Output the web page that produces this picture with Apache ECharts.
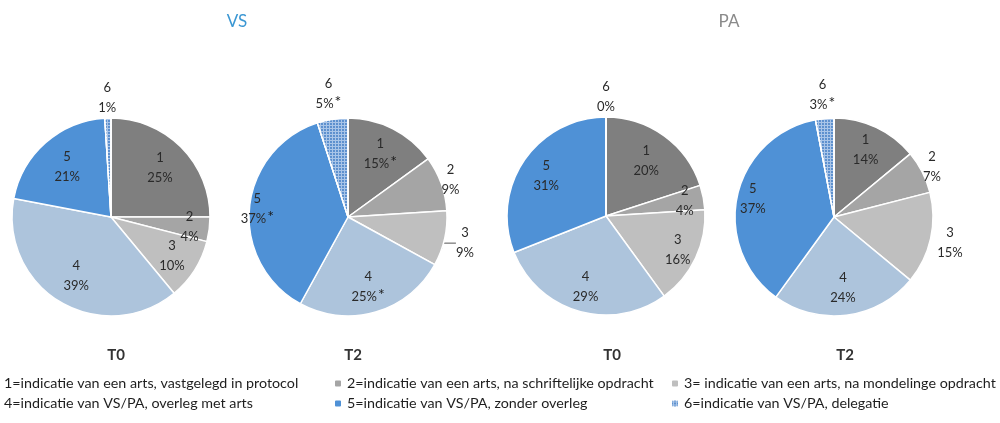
<!DOCTYPE html>
<html>
<head>
<meta charset="utf-8">
<script src="https://cdn.jsdelivr.net/npm/echarts@6/dist/echarts.min.js"></script>
<style>
  html, body { margin: 0; padding: 0; background: #ffffff; }
  #chart { width: 1000px; height: 423px; }
</style>
</head>
<body>
<div id="chart"></div>
<script>
// Categories (slice codes and full legend names)
const codes = ['1', '2', '3', '4', '5', '6'];
const categories = [
  '1=indicatie van een arts, vastgelegd in protocol',
  '2=indicatie van een arts, na schriftelijke opdracht',
  '3= indicatie van een arts, na mondelinge opdracht',
  '4=indicatie van VS/PA, overleg met arts',
  '5=indicatie van VS/PA, zonder overleg',
  '6=indicatie van VS/PA, delegatie'
];
const groups = ['VS', 'PA'];
const moments = ['T0', 'T2', 'T0', 'T2'];

// Percentages per pie
const vsT0 = [25, 4, 10, 39, 21, 1];
const vsT2 = [15, 9, 9, 25, 37, 5];
const paT0 = [20, 4, 16, 29, 31, 0];
const paT2 = [14, 7, 15, 24, 37, 3];

// Significance marks shown next to percentages
const vsT0Marks = ['', '', '', '', '', ''];
const vsT2Marks = ['*', '', '', '*', '*', '*'];
const paT0Marks = ['', '', '', '', '', ''];
const paT2Marks = ['', '', '', '', '', '*'];

// ---- presentation ----
const sliceColors = ['#7f7f7f', '#a5a5a5', '#bfbfbf', '#adc4dc', '#4f91d6', '#a9c5e8'];
const FONT = 'Lato, "Open Sans", sans-serif';
const LABEL_COLOR = '#2a2a2a';
const R = 99;
const pies = [
  { values: vsT0, marks: vsT0Marks, center: [111, 217], reach: [0.70, 0.80, 0.73, 0.69, 0.67, 1.20], leader: -1 },
  { values: vsT2, marks: vsT2Marks, center: [348, 217], reach: [0.72, 1.10, 1.21, 0.73, 0.92, 1.26], leader: 2 },
  { values: paT0, marks: paT0Marks, center: [606, 216], reach: [0.69, 0.81, 0.80, 0.74, 0.73, 1.20], leader: -1 },
  { values: paT2, marks: paT2Marks, center: [834, 217], reach: [0.75, 1.11, 1.20, 0.72, 0.84, 1.24], leader: -1 }
];

function midAngles(values) {
  const total = values.reduce((a, b) => a + b, 0);
  let cum = 0;
  return values.map(v => {
    const a = (cum + v / 2) / total * 2 * Math.PI;
    cum += v;
    return a;
  });
}

const series = pies.map((p, si) => {
  const mids = midAngles(p.values);
  return {
    type: 'pie',
    name: moments[si],
    center: p.center,
    radius: R,
    startAngle: 90,
    clockwise: true,
    avoidLabelOverlap: false,
    silent: true,
    itemStyle: { borderColor: '#ffffff', borderWidth: 1.5 },
    label: {
      show: true,
      position: 'inside',
      align: 'center',
      verticalAlign: 'middle',
      color: LABEL_COLOR,
      fontFamily: FONT,
      fontSize: 13,
      lineHeight: 20,
      formatter: (d) => {
        const m = p.marks[d.dataIndex];
        return '{n|' + codes[d.dataIndex] + '}\n{p|' + d.value + '%}' + (m ? '{s|' + m + '}' : '');
      },
      rich: {
        n: { fontFamily: FONT, fontSize: 13, color: LABEL_COLOR, lineHeight: 20 },
        p: { fontFamily: FONT, fontSize: 13, color: LABEL_COLOR, lineHeight: 20 },
        s: { fontFamily: FONT, fontSize: 16, color: '#1a1a1a', lineHeight: 20, verticalAlign: 'top', padding: [0, 0, 8, 1] }
      }
    },
    labelLine: { show: false },
    labelLayout: (params) => {
      const i = params.dataIndex;
      const a = mids[i];
      const d = p.reach[i] * R;
      const x = p.center[0] + d * Math.sin(a);
      const y = p.center[1] - d * Math.cos(a);
      const out = { x: x, y: y, align: 'center', verticalAlign: 'middle' };
      if (i === p.leader) {
        out.labelLinePoints = [[x - 15, y - 14], [x - 15, y - 5], [x - 8, y - 5]];
      }
      return out;
    },
    data: p.values.map((v, i) => {
      const item = { name: categories[i], value: v, itemStyle: { color: sliceColors[i] } };
      if (i === p.leader) {
        item.labelLine = { show: true, lineStyle: { color: '#555555', width: 1 } };
      }
      if (i === 5) {
        item.itemStyle.decal = {
          symbol: 'circle',
          symbolSize: 0.9,
          color: '#3a78c2',
          dashArrayX: [2, 1],
          dashArrayY: [2, 1],
          rotation: 0
        };
      }
      return item;
    })
  };
});

const titleCenters = [111, 348, 607, 840];
const titles = [
  { text: groups[0], left: 232, top: 8, textAlign: 'center',
    textStyle: { fontFamily: FONT, fontSize: 17, fontWeight: 'normal', color: '#3b97d3' } },
  { text: groups[1], left: 724, top: 8, textAlign: 'center',
    textStyle: { fontFamily: FONT, fontSize: 17, fontWeight: 'normal', color: '#8a8a8a' } }
].concat(moments.map((m, i) => ({
  text: m, left: titleCenters[i], top: 343, textAlign: 'center',
  textStyle: { fontFamily: FONT, fontSize: 15, fontWeight: 'bold', color: '#333333' }
})));

const legendBase = {
  orient: 'vertical',
  top: 376,
  padding: 0,
  itemWidth: 8,
  itemHeight: 8,
  itemGap: 5,
  selectedMode: false,
  textStyle: { fontFamily: FONT, fontSize: 14.3, color: '#1e1e1e', lineHeight: 15 }
};

const option = {
  backgroundColor: '#ffffff',
  animation: false,
  title: titles,
  legend: [
    Object.assign({}, legendBase, { left: -10, data: [categories[0], categories[3]] }),
    Object.assign({}, legendBase, { left: 333, data: [categories[1], categories[4]] }),
    Object.assign({}, legendBase, { left: 670, data: [categories[2], categories[5]] })
  ],
  series: series
};

const chart = echarts.init(document.getElementById('chart'), null, { renderer: 'canvas' });
chart.setOption(option);
</script>
</body>
</html>
